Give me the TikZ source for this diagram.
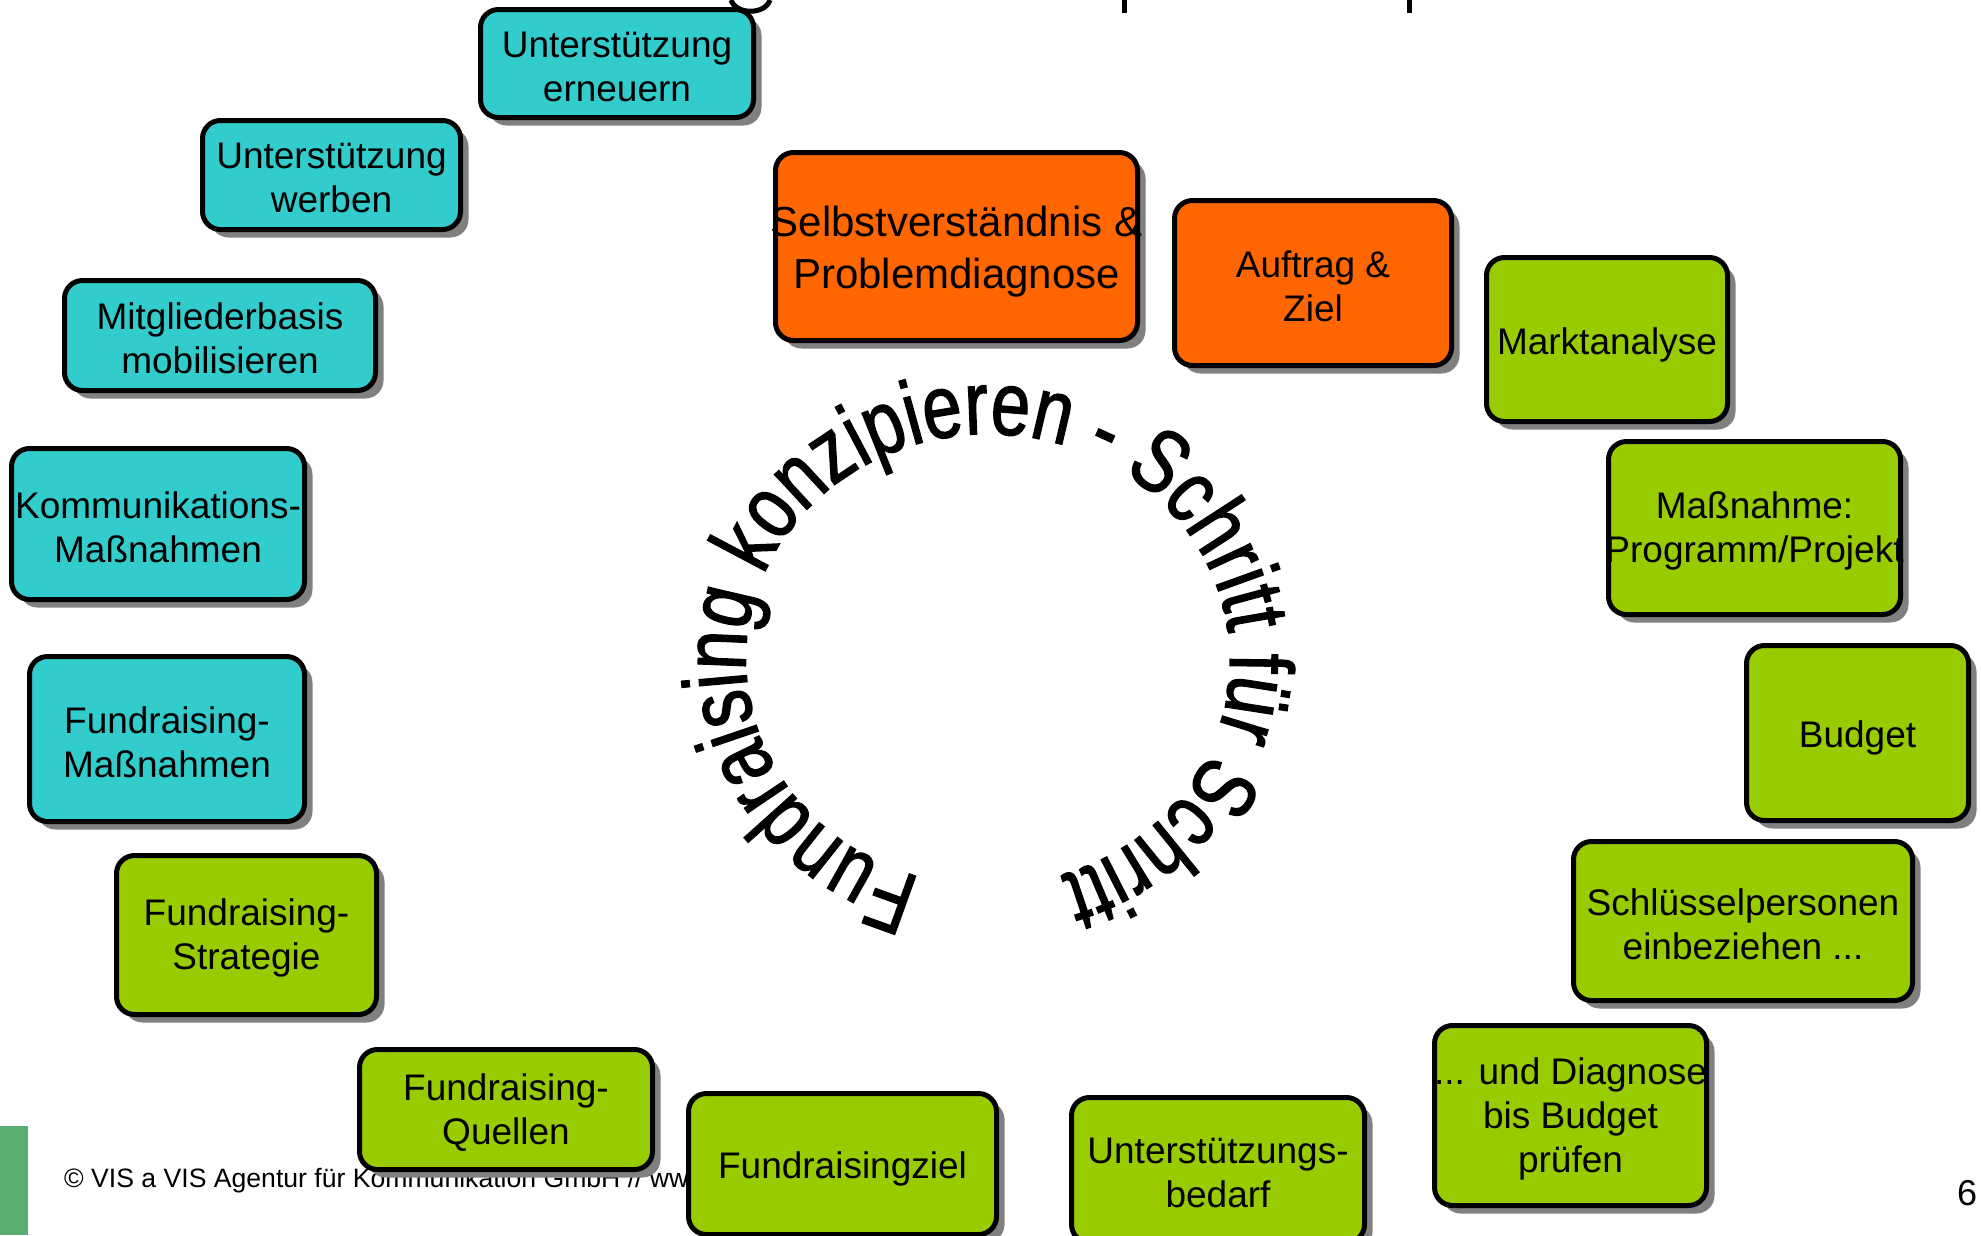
\documentclass[tikz,border=0pt]{standalone}
\usepackage{fontspec}
\setmainfont{Liberation Sans}
\newfontfamily\ringfont[FakeStretch=0.782,FakeBold=1.5]{Liberation Sans}
\usetikzlibrary{shadows,decorations.text}
\definecolor{cyanbox}{RGB}{51,204,204}
\definecolor{greenbox}{RGB}{153,204,0}
\definecolor{orangebox}{RGB}{255,102,0}
\definecolor{shadowgray}{RGB}{128,128,128}
\definecolor{bargreen}{RGB}{90,172,112}
\newcommand\zl[1]{\makebox[0pt]{\raisebox{-3pt}[\height][\depth]{#1}}}
\newcommand\zs[1]{\makebox[0pt]{\raisebox{-5pt}[\height][\depth]{#1}}}
\begin{document}
\begin{tikzpicture}[x=1pt,y=-1pt,
  box/.style={draw=black, line width=5pt, rounded corners=18pt, align=center,
    inner sep=0pt, font=\fontsize{37}{44}\selectfont,
    drop shadow={shadow xshift=8pt, shadow yshift=-8pt, fill=shadowgray, opacity=1}},
  cbox/.style={box, fill=cyanbox},
  gbox/.style={box, fill=greenbox},
  obox/.style={box, fill=orangebox},
  sz/.style 2 args={minimum width=#1pt, minimum height=#2pt},
  plain/.style={inner sep=0pt, anchor=base west}]
\useasboundingbox (0,0) rectangle (1981,1235);
\fill[white] (0,0) rectangle (1981,1235);
\clip (0,0) rectangle (1981,1235);

% title descenders (title itself is cut off above the page)
\draw[line width=5pt] (731,0) .. controls (736,15) and (765,15) .. (770,0);
\draw[line width=5pt] (1124,0) -- (1124,13);
\draw[line width=5pt] (1409,0) -- (1409,13);

% footer
\fill[bargreen] (0,1126) rectangle (28,1235);
\node[plain, font=\fontsize{26.6}{30}\selectfont] (footer) at (64,1187) {© VIS a VIS Agentur für Kommunikation GmbH // www};
\node[plain, font=\fontsize{36}{40}\selectfont] (pagenum) at (1957,1205) {6};

% cyan boxes
\node[cbox, sz={273}{108}] (uern) at (617,63.5) {\zl{Unterstützung}\\\zl{erneuern}};
\node[cbox, sz={258}{109}] (uwerb) at (331.5,175) {\zl{Unterstützung}\\\zl{werben}};
\node[cbox, sz={311}{110}] (mitgl) at (220,335.5) {\zl{Mitgliederbasis}\\\zl{mobilisieren}};
\node[cbox, sz={293}{151}] (komm) at (158,524) {\zl{Kommunikations-}\\\zl{Maßnahmen}};
\node[cbox, sz={275}{165}] (frmass) at (167,739) {\zl{Fundraising-}\\\zl{Maßnahmen}};

% green boxes
\node[gbox, sz={260}{159}] (frstrat) at (246.5,935) {\zl{Fundraising-}\\\zl{Strategie}};
\node[gbox, sz={293}{120}] (frquell) at (506,1109.5) {\zl{Fundraising-}\\\zl{Quellen}};
\node[gbox, sz={308}{141}] (frziel) at (842.5,1164) {\zs{Fundraisingziel}};
\node[gbox, sz={293}{145}] (ubedarf) at (1218,1170) {\zl{Unterstützungs-}\\\zl{bedarf}};
\node[gbox, sz={272}{180}] (diagn) at (1570.5,1115.5) {\zl{... und Diagnose}\\\zl{bis Budget}\\\zl{prüfen}};
\node[gbox, sz={339}{159}] (schluess) at (1743,921) {\zl{Schlüsselpersonen}\\\zl{einbeziehen ...}};
\node[gbox, sz={222}{175}] (budget) at (1857.5,733) {\zs{Budget}};
\node[gbox, sz={292}{173}] (massn) at (1754.5,528) {\zl{Maßnahme:}\\\zl{Programm/Projekt}};
\node[gbox, sz={241}{164}] (markt) at (1607,339.5) {\zs{Marktanalyse}};

% orange boxes
\node[obox, sz={277}{165}] (auftrag) at (1313,283) {\zl{Auftrag \&}\\\zl{Ziel}};
\node[obox, sz={362}{188}, font=\fontsize{42}{52}\selectfont] (selbst) at (956.5,246.5) {\zs{Selbstverständnis \&}\\\zs{Problemdiagnose}};

% circular text on an ellipse
\begin{scope}[shift={(988,660)}, x=1pt, y=1pt]
  \coordinate (ringc) at (0,0);
  \path[decorate, decoration={text along path, text align={left},
      text={|\ringfont\fontsize{90}{90}\selectfont|Fundraising konzipieren - Schritt für Schritt}}]
    (ringc) ++(254:242 and 226) arc[start angle=254, end angle=-130, x radius=242, y radius=226];
\end{scope}
\end{tikzpicture}
\end{document}
